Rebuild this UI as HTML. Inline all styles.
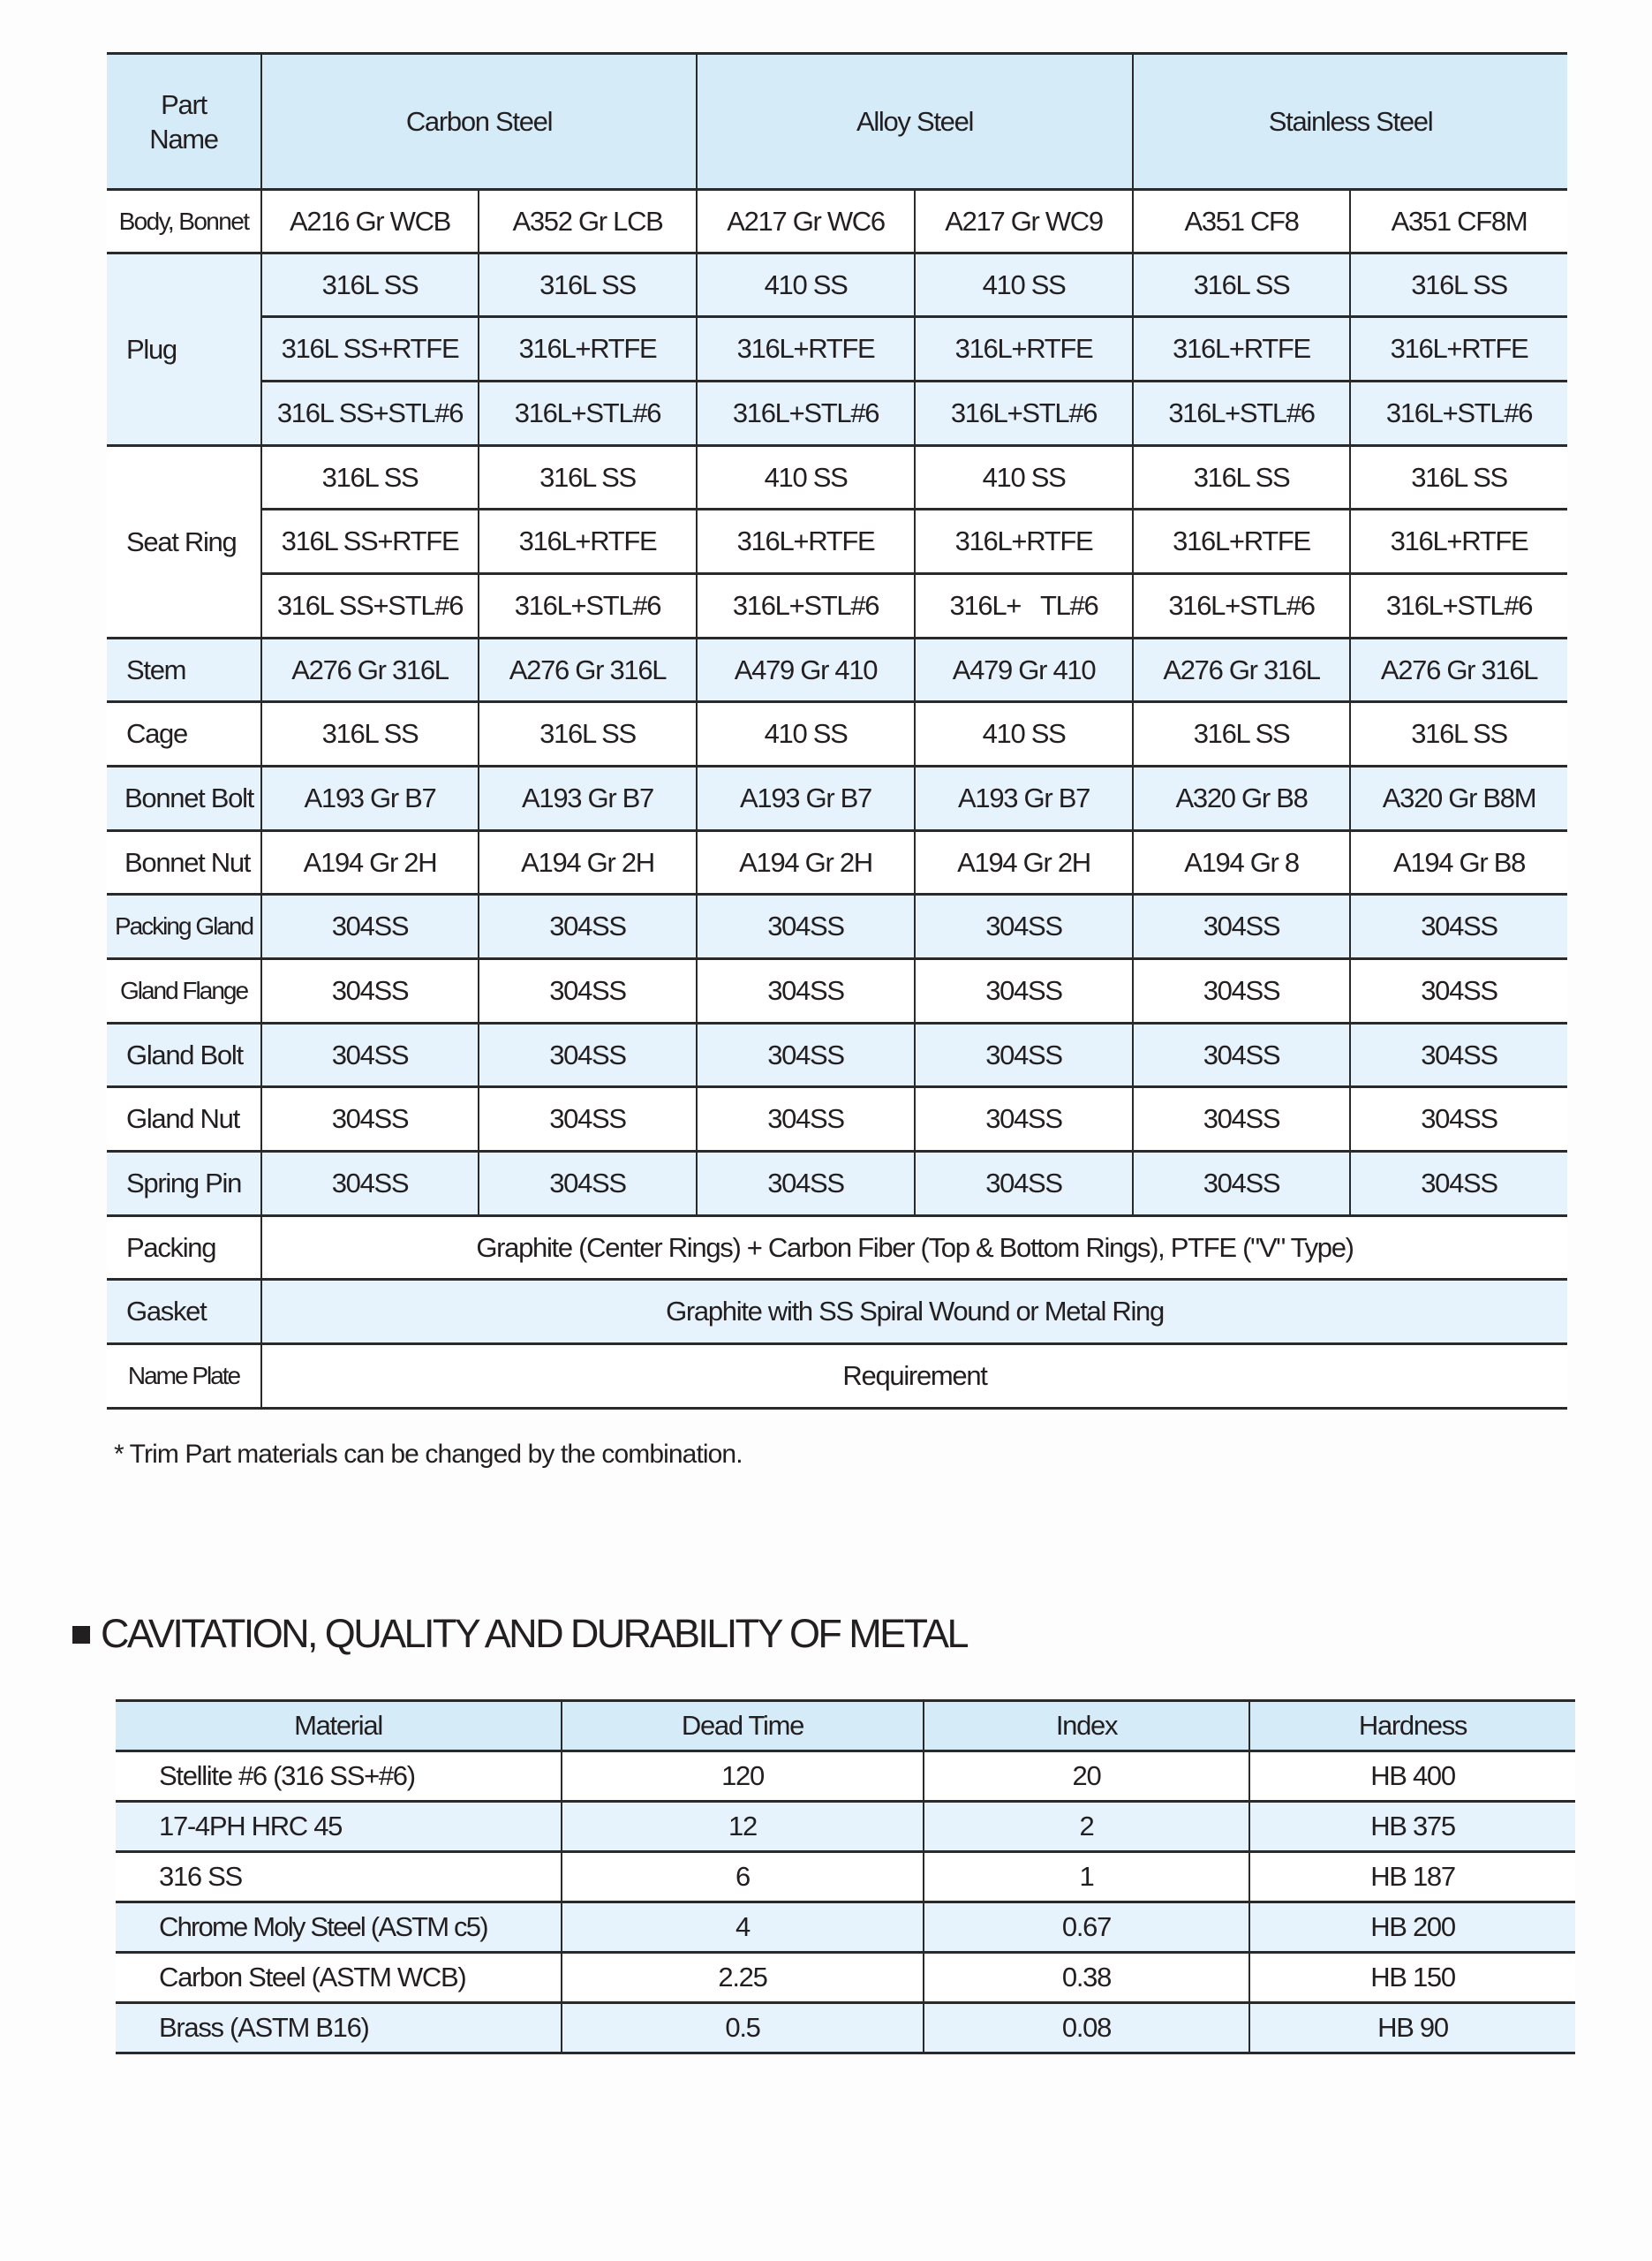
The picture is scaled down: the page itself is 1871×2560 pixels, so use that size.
<!DOCTYPE html>
<html><head><meta charset="utf-8"><style>
body{margin:0;width:1871px;height:2560px;background:#fdfdfd;font-family:"Liberation Sans",Arial,sans-serif;color:#231f20;position:relative;overflow:hidden}
table{border-collapse:collapse;table-layout:fixed;position:absolute}
td{padding:0;text-align:center;font-size:31px;letter-spacing:-1.3px;border-top:3px solid #2a2a2a;border-bottom:3px solid #2a2a2a;border-left:2px solid #2a2a2a;border-right:2px solid #2a2a2a;white-space:nowrap;overflow:hidden}
#t1{left:121px;top:59px;width:1654px}
#t1 tr td:first-child{border-left:none}
#t1 tr td:last-child{border-right:none}
#t1 td.lab{text-align:left;padding-left:22px}
.b{background:#e6f3fc}
.h{background:#d5ebf8}
.w{background:#fff}
.sm{font-size:28px;letter-spacing:-1.6px}
#t2{left:131px;top:1924px;width:1653px}
#t2 td{height:54px;font-size:31px}
#t2 tr td:first-child{border-left:none}
#t2 tr td:last-child{border-right:none}
#t2 td.m{text-align:left;padding-left:49px}
.head{position:absolute;left:82px;top:1824px;font-size:45px;letter-spacing:-2.6px;white-space:nowrap}
.sq{display:inline-block;width:20px;height:20px;background:#231f20;margin-right:12px;vertical-align:4px}
.note{position:absolute;left:129px;top:1630px;font-size:30px;letter-spacing:-0.9px}
</style></head><body>
<table id="t1">
<colgroup><col style="width:175px"><col style="width:246px"><col style="width:247px"><col style="width:247px"><col style="width:247px"><col style="width:246px"><col style="width:246px"></colgroup>
<tr class="h" style="height:154px"><td style="line-height:39px">Part<br>Name</td><td colspan="2">Carbon Steel</td><td colspan="2">Alloy Steel</td><td colspan="2">Stainless Steel</td></tr>
<tr class="w" style="height:72px"><td class="sm">Body, Bonnet</td><td>A216 Gr WCB</td><td>A352 Gr LCB</td><td>A217 Gr WC6</td><td>A217 Gr WC9</td><td>A351 CF8</td><td>A351 CF8M</td></tr>
<tr class="b" style="height:72px"><td rowspan="3" class="lab">Plug</td><td>316L SS</td><td>316L SS</td><td>410 SS</td><td>410 SS</td><td>316L SS</td><td>316L SS</td></tr>
<tr class="b" style="height:73px"><td>316L SS+RTFE</td><td>316L+RTFE</td><td>316L+RTFE</td><td>316L+RTFE</td><td>316L+RTFE</td><td>316L+RTFE</td></tr>
<tr class="b" style="height:73px"><td>316L SS+STL#6</td><td>316L+STL#6</td><td>316L+STL#6</td><td>316L+STL#6</td><td>316L+STL#6</td><td>316L+STL#6</td></tr>
<tr class="w" style="height:72px"><td rowspan="3" class="lab">Seat Ring</td><td>316L SS</td><td>316L SS</td><td>410 SS</td><td>410 SS</td><td>316L SS</td><td>316L SS</td></tr>
<tr class="w" style="height:73px"><td>316L SS+RTFE</td><td>316L+RTFE</td><td>316L+RTFE</td><td>316L+RTFE</td><td>316L+RTFE</td><td>316L+RTFE</td></tr>
<tr class="w" style="height:73px"><td>316L SS+STL#6</td><td>316L+STL#6</td><td>316L+STL#6</td><td>316L+&nbsp;&nbsp;&nbsp;TL#6</td><td>316L+STL#6</td><td>316L+STL#6</td></tr>
<tr class="b" style="height:72px"><td class="lab">Stem</td><td>A276 Gr 316L</td><td>A276 Gr 316L</td><td>A479 Gr 410</td><td>A479 Gr 410</td><td>A276 Gr 316L</td><td>A276 Gr 316L</td></tr>
<tr class="w" style="height:73px"><td class="lab">Cage</td><td>316L SS</td><td>316L SS</td><td>410 SS</td><td>410 SS</td><td>316L SS</td><td>316L SS</td></tr>
<tr class="b" style="height:73px"><td class="lab" style="padding-left:20px">Bonnet Bolt</td><td>A193 Gr B7</td><td>A193 Gr B7</td><td>A193 Gr B7</td><td>A193 Gr B7</td><td>A320 Gr B8</td><td>A320 Gr B8M</td></tr>
<tr class="w" style="height:72px"><td class="lab" style="padding-left:20px">Bonnet Nut</td><td>A194 Gr 2H</td><td>A194 Gr 2H</td><td>A194 Gr 2H</td><td>A194 Gr 2H</td><td>A194 Gr 8</td><td>A194 Gr B8</td></tr>
<tr class="b" style="height:73px"><td class="sm" style="letter-spacing:-2px">Packing Gland</td><td>304SS</td><td>304SS</td><td>304SS</td><td>304SS</td><td>304SS</td><td>304SS</td></tr>
<tr class="w" style="height:73px"><td class="sm" style="letter-spacing:-2px">Gland Flange</td><td>304SS</td><td>304SS</td><td>304SS</td><td>304SS</td><td>304SS</td><td>304SS</td></tr>
<tr class="b" style="height:72px"><td class="lab">Gland Bolt</td><td>304SS</td><td>304SS</td><td>304SS</td><td>304SS</td><td>304SS</td><td>304SS</td></tr>
<tr class="w" style="height:73px"><td class="lab">Gland Nut</td><td>304SS</td><td>304SS</td><td>304SS</td><td>304SS</td><td>304SS</td><td>304SS</td></tr>
<tr class="b" style="height:73px"><td class="lab">Spring Pin</td><td>304SS</td><td>304SS</td><td>304SS</td><td>304SS</td><td>304SS</td><td>304SS</td></tr>
<tr class="w" style="height:72px"><td class="lab">Packing</td><td colspan="6">Graphite (Center Rings) + Carbon Fiber (Top &amp; Bottom Rings), PTFE ("V" Type)</td></tr>
<tr class="b" style="height:73px"><td class="lab">Gasket</td><td colspan="6">Graphite with SS Spiral Wound or Metal Ring</td></tr>
<tr class="w" style="height:73px"><td class="sm" style="letter-spacing:-2px">Name Plate</td><td colspan="6">Requirement</td></tr>
</table>
<div class="note">* Trim Part materials can be changed by the combination.</div>
<div class="head"><span class="sq"></span>CAVITATION, QUALITY AND DURABILITY OF METAL</div>
<table id="t2">
<colgroup><col style="width:505px"><col style="width:410px"><col style="width:369px"><col style="width:369px"></colgroup>
<tr class="h"><td>Material</td><td>Dead Time</td><td>Index</td><td>Hardness</td></tr>
<tr class="w"><td class="m">Stellite #6 (316 SS+#6)</td><td>120</td><td>20</td><td>HB 400</td></tr>
<tr class="b"><td class="m">17-4PH HRC 45</td><td>12</td><td>2</td><td>HB 375</td></tr>
<tr class="w"><td class="m">316 SS</td><td>6</td><td>1</td><td>HB 187</td></tr>
<tr class="b"><td class="m" style="letter-spacing:-1.8px">Chrome Moly Steel (ASTM c5)</td><td>4</td><td>0.67</td><td>HB 200</td></tr>
<tr class="w"><td class="m">Carbon Steel (ASTM WCB)</td><td>2.25</td><td>0.38</td><td>HB 150</td></tr>
<tr class="b"><td class="m">Brass (ASTM B16)</td><td>0.5</td><td>0.08</td><td>HB 90</td></tr>
</table>
</body></html>
